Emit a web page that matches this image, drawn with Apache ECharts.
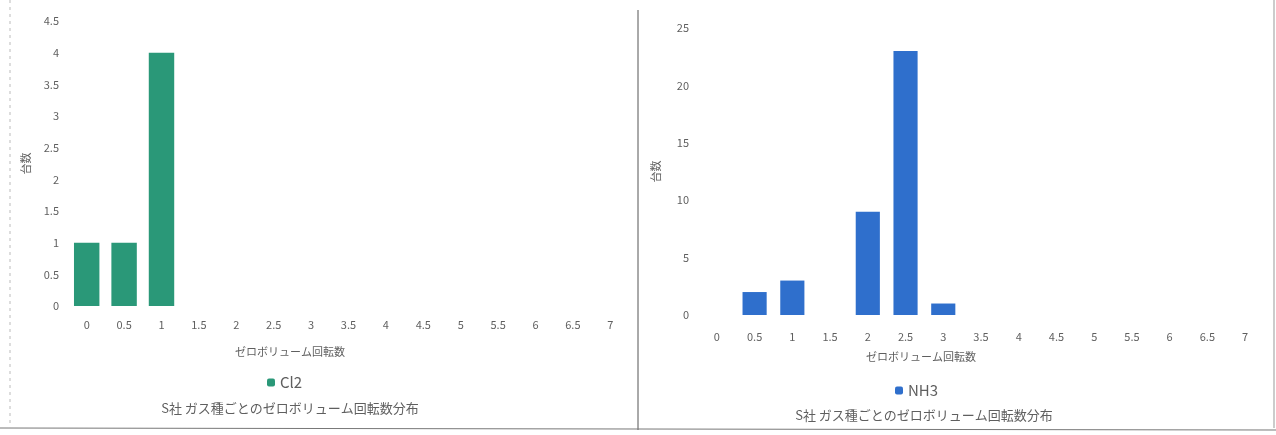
<!DOCTYPE html>
<html>
<head>
<meta charset="utf-8">
<script src="https://cdn.jsdelivr.net/npm/echarts@6/dist/echarts.min.js"></script>
<style>
html,body{margin:0;padding:0;background:#fff;}
#c{width:1276px;height:435px;}
</style>
</head>
<body>
<div id="c"></div>
<script>
const categories = ['0','0.5','1','1.5','2','2.5','3','3.5','4','4.5','5','5.5','6','6.5','7'];
const cl2Values = [1,1,4,0,0,0,0,0,0,0,0,0,0,0,0];
const nh3Values = [0,2,3,0,9,23,1,0,0,0,0,0,0,0,0];
const seriesNames = ['Cl2','NH3'];
const xAxisTitle = 'ゼロボリューム回転数';
const yAxisTitle = '台数';
const chartTitle = 'S社 ガス種ごとのゼロボリューム回転数分布';

const FONT = '"Noto Sans CJK JP", "Noto Sans", sans-serif';
const TXT = '#5f5f5f';
const chart = echarts.init(document.getElementById('c'));

function xAxis(gridIndex, margin){
  return {
    type:'category', gridIndex, data:categories,
    axisLine:{show:false}, axisTick:{show:false},
    axisLabel:{color:TXT, fontSize:11, fontFamily:FONT, margin, interval:0}
  };
}
function yAxis(gridIndex, max, interval){
  return {
    type:'value', gridIndex, min:0, max, interval,
    name:yAxisTitle, nameLocation:'middle', nameGap:37, nameRotate:90,
    nameTextStyle:{color:TXT, fontSize:11, fontFamily:FONT},
    axisLine:{show:false}, axisTick:{show:false},
    splitLine:{show:false},
    axisLabel:{color:TXT, fontSize:11, fontFamily:FONT, margin:9}
  };
}

chart.setOption({
  animation:false,
  grid:[
    {left:68, right:647, top:21, bottom:129},
    {left:698, right:12, top:28, bottom:120}
  ],
  xAxis:[xAxis(0,13), xAxis(1,16)],
  yAxis:[yAxis(0,4.5,0.5), yAxis(1,25,5)],
  legend:[
    {data:[seriesNames[0]], left:262, top:370, itemWidth:8, itemHeight:8, itemGap:4,
     textStyle:{color:TXT, fontSize:15, fontFamily:FONT}},
    {data:[seriesNames[1]], left:890, top:378, itemWidth:8, itemHeight:8, itemGap:4,
     textStyle:{color:TXT, fontSize:15, fontFamily:FONT}}
  ],
  title:[
    {text:xAxisTitle, left:285, top:341, textAlign:'center',
     textStyle:{color:TXT, fontSize:11, fontWeight:'normal', fontFamily:FONT}},
    {text:xAxisTitle, left:916, top:346, textAlign:'center',
     textStyle:{color:TXT, fontSize:11, fontWeight:'normal', fontFamily:FONT}},
    {text:chartTitle, left:285, top:397, textAlign:'center',
     textStyle:{color:TXT, fontSize:13, fontWeight:'normal', fontFamily:FONT}},
    {text:chartTitle, left:919, top:404, textAlign:'center',
     textStyle:{color:TXT, fontSize:13, fontWeight:'normal', fontFamily:FONT}}
  ],
  graphic:[
    {type:'line', shape:{x1:638, y1:10, x2:638, y2:430}, style:{stroke:'#555', lineWidth:1}},
    {type:'line', shape:{x1:0, y1:428, x2:1276, y2:430}, style:{stroke:'#777', lineWidth:1}},
    {type:'line', shape:{x1:10, y1:0, x2:10, y2:428}, style:{stroke:'#bbb', lineWidth:1, lineDash:[3,4]}},
    {type:'line', shape:{x1:1274, y1:0, x2:1274, y2:428}, style:{stroke:'#999', lineWidth:1}}
  ],
  series:[
    {name:seriesNames[0], type:'bar', xAxisIndex:0, yAxisIndex:0, data:cl2Values,
     barWidth:'68%', itemStyle:{color:'#2a9878'}},
    {name:seriesNames[1], type:'bar', xAxisIndex:1, yAxisIndex:1, data:nh3Values,
     barWidth:'64%', itemStyle:{color:'#2f6fcc'}}
  ]
});
</script>
</body>
</html>
